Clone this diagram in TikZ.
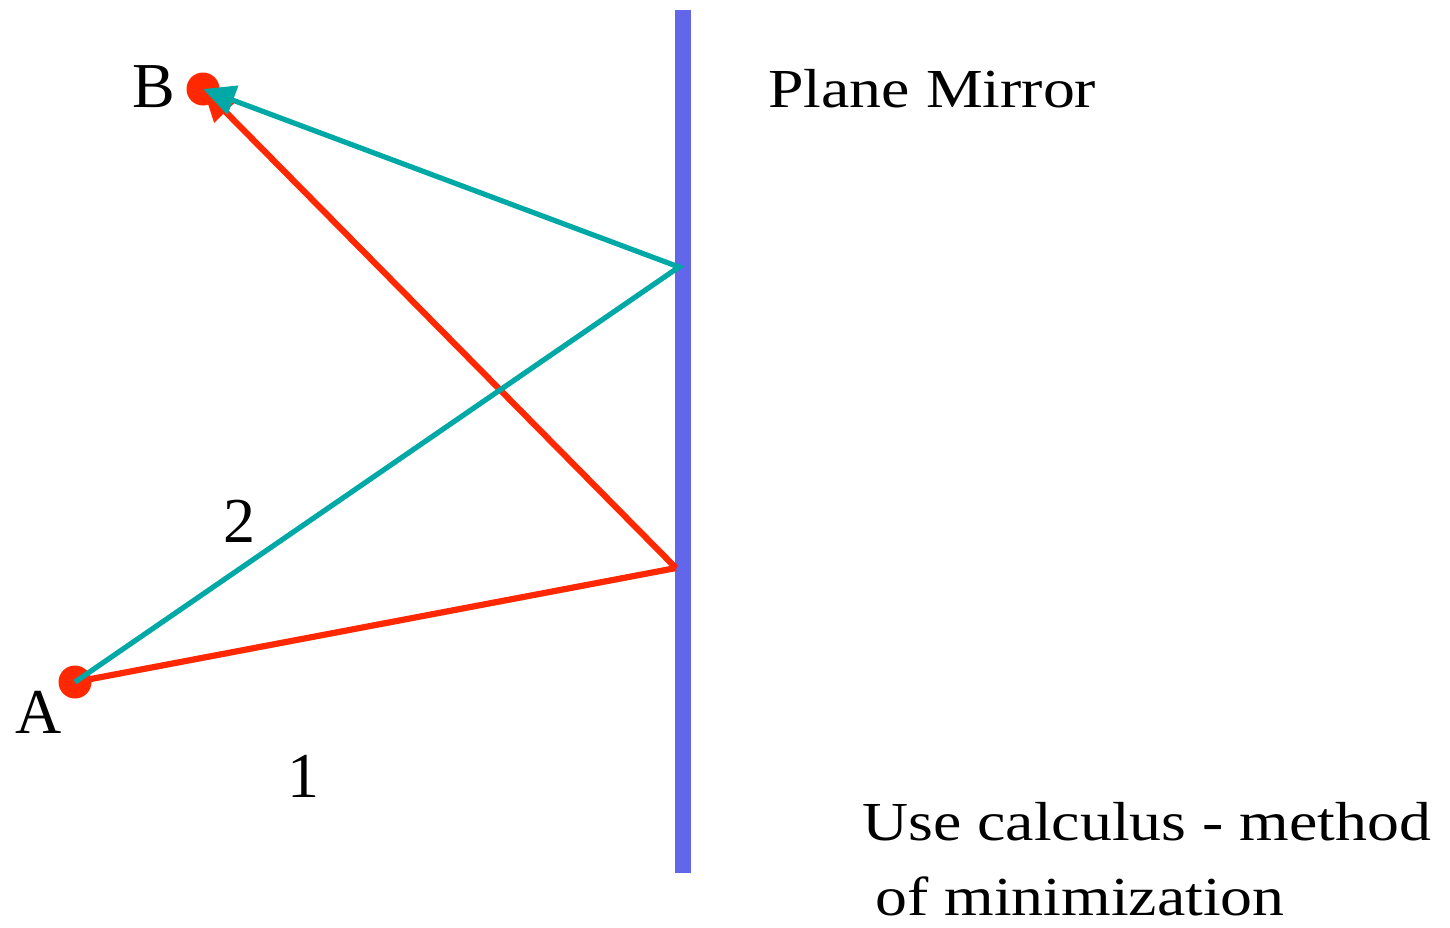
\documentclass[tikz,border=0pt]{standalone}
\usepackage{fontspec}
\setmainfont{Liberation Serif}
\newfontfamily\widefont[FakeStretch=1.16]{Liberation Serif}
\usetikzlibrary{arrows.meta,positioning}
\definecolor{rayred}{RGB}{255,40,0}
\definecolor{raycyan}{RGB}{0,168,166}
\definecolor{mirrorblue}{RGB}{98,102,234}
\tikzset{
    mirror diagram/.style = {x=0.5pt, y=-0.5pt,
                             >={Triangle[length=16pt, width=15pt]}},
    mirror/.style         = {draw=mirrorblue, line width=8pt},
    ray one/.style        = {draw=rayred, line width=3.1pt},
    ray two/.style        = {draw=raycyan, line width=2.6pt, miter limit=10},
    dot/.style            = {circle, fill=rayred, minimum size=16.5pt,
                             inner sep=0pt},
    tag/.style            = {anchor=base west, inner sep=0pt,
                             font=\fontsize{32}{38}\selectfont},
    caption/.style        = {anchor=base west, inner sep=0pt,
                             font=\widefont\fontsize{27.5}{33}\selectfont}
}

\begin{document}
\begin{tikzpicture}[mirror diagram]
\useasboundingbox (0,0) rectangle (1450,927);

% The mirror
\coordinate (mtop) at (683,10);
\coordinate (mbot) at (683,873);
\draw[mirror] (mtop) -- (mbot);
\node[caption] (mname) at (768,107) {Plane Mirror};

% End points
\node[dot] (A) at (75,682) {};
\node[dot] (B) at (203,89) {};
\node[tag] (Alab) at (15,733) {A};
\node[tag] (Blab) at (132,107) {B};

% Reflection points on the mirror
\coordinate (M1) at (676,568);
\coordinate (M2) at (679,267);

% Path 1
\draw[ray one] (A.center) -- (M1);
\draw[ray one, ->] (M1) -- (B.center);
\node[tag] (one) at (287,797) {1};

% Path 2
\draw[ray two, ->] (A.center) -- (M2) -- (B.center);
\node[tag] (two) at (223,542) {2};

% Note
\node[caption] (note1) at (862,840) {Use calculus - method};
\node[caption] (note2) at (875,915) {of minimization};

\end{tikzpicture}
\end{document}
